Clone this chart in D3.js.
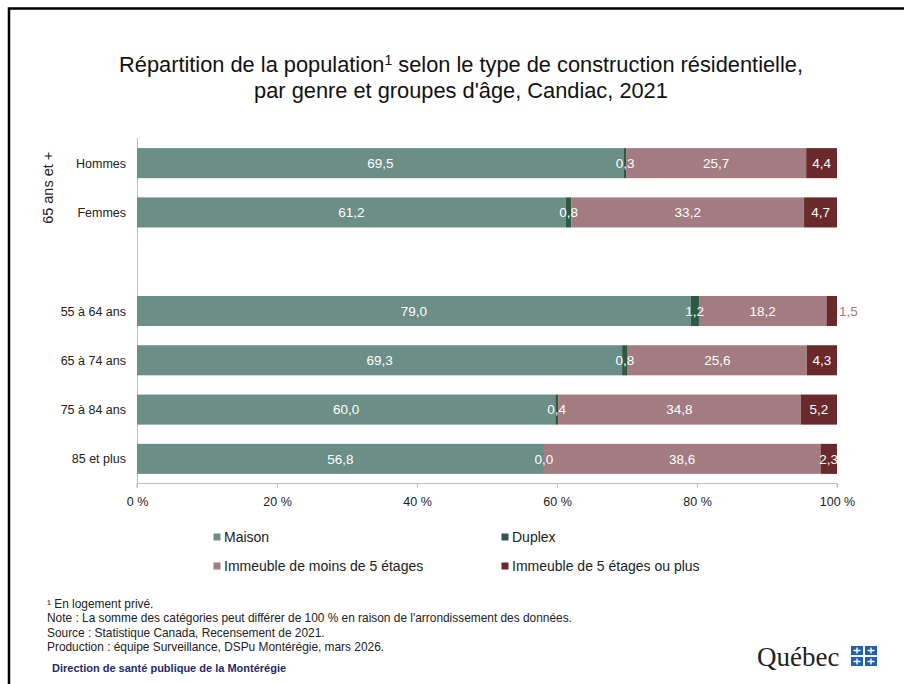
<!DOCTYPE html>
<html><head><meta charset="utf-8">
<script src="https://cdn.jsdelivr.net/npm/d3@7"></script>
<style>
body{margin:0;background:#fff;}
svg{display:block;}
</style></head>
<body>
<script>
const categories = ["Hommes", "Femmes", "", "55 à 64 ans", "65 à 74 ans", "75 à 84 ans", "85 et plus"];
const seriesNames = ["Maison", "Duplex", "Immeuble de moins de 5 étages", "Immeuble de 5 étages ou plus"];
const maison   = [69.5, 61.2, null, 79.0, 69.3, 60.0, 56.8];
const duplex   = [0.3, 0.8, null, 1.2, 0.8, 0.4, 0.0];
const immMoins = [25.7, 33.2, null, 18.2, 25.6, 34.8, 38.6];
const immPlus  = [4.4, 4.7, null, 1.5, 4.3, 5.2, 2.3];
const tickValues = [0, 20, 40, 60, 80, 100];
const colors = ["#6b8e87", "#2c5a44", "#a37c81", "#6a2a2c"];
const groupLabel = "65 ans et +";
const footnotes = [
  "¹ En logement privé.",
  "Note : La somme des catégories peut différer de 100 % en raison de l'arrondissement des données.",
  "Source : Statistique Canada, Recensement de 2021.",
  "Production : équipe Surveillance, DSPu Montérégie, mars 2026."
];

const W = 904, H = 684;
const svg = d3.select("body").append("svg").attr("width", W).attr("height", H);
const sans = "'Liberation Sans', Arial, sans-serif";

// frame
svg.append("path").attr("d", `M9,${H+5} V8.5 H${W+5}`).attr("fill","none").attr("stroke","#000").attr("stroke-width",2.5);

// title
const title = svg.append("text").attr("text-anchor","middle").attr("font-family", sans).attr("font-size", 21.8).attr("fill","#111");
const t1 = title.append("tspan").attr("x", 461).attr("y", 72);
t1.append("tspan").text("Répartition de la population");
t1.append("tspan").attr("font-size", 14).attr("dy", -7).text("1");
t1.append("tspan").attr("dy", 7).text(" selon le type de construction résidentielle,");
title.append("tspan").attr("x", 461).attr("y", 98).text("par genre et groupes d'âge, Candiac, 2021");

// scales
const x = d3.scaleLinear().domain([0, 100]).range([137, 837]);
const y = d3.scaleBand().domain(d3.range(categories.length)).range([138.5, 483.5]).paddingInner(0.39).paddingOuter(0.195);

const rows = categories.map((c, i) => ({i, cat: c, vals: [maison[i], duplex[i], immMoins[i], immPlus[i]]})).filter(r => r.vals[0] !== null);
rows.forEach(r => {
  const tot = d3.sum(r.vals);
  let acc = 0;
  r.segs = r.vals.map((v, k) => { const s = {k, v, x0: acc / tot * 100, x1: (acc + v) / tot * 100}; acc += v; return s; });
});

// axis
const xAxis = d3.axisBottom(x).tickValues(tickValues).tickSize(4).tickFormat(d => d + " %");
const gx = svg.append("g").attr("transform", `translate(0,${483.5})`).call(xAxis);
gx.select(".domain").attr("stroke", "#bfbfbf").attr("d", `M${x(0)},4V0H${x(100)}V4`);
gx.selectAll(".tick line").attr("stroke", "#bfbfbf");
gx.selectAll(".tick text").attr("font-family", sans).attr("font-size", 12.5).attr("fill", "#222").attr("dy", "1.2em");

// vertical axis line
svg.append("line").attr("x1", 137.5).attr("x2", 137.5).attr("y1", 138).attr("y2", 488).attr("stroke", "#bfbfbf");

// bars
const g = svg.append("g");
rows.forEach(r => {
  r.segs.forEach(s => {
    g.append("rect").attr("x", x(s.x0)).attr("width", Math.max(0, x(s.x1) - x(s.x0)))
      .attr("y", y(r.i)).attr("height", y.bandwidth()).attr("fill", colors[s.k]);
  });
  r.segs.forEach(s => {
    const cx = (x(s.x0) + x(s.x1)) / 2;
    const outside = (s.k === 3 && (x(s.x1) - x(s.x0)) < 14);
    g.append("text")
      .attr("x", outside ? x(100) + 2 : cx)
      .attr("y", y(r.i) + y.bandwidth() / 2)
      .attr("dy", "0.36em")
      .attr("text-anchor", outside ? "start" : "middle")
      .attr("font-family", sans).attr("font-size", 13.5)
      .attr("fill", outside ? colors[2] : "#fff")
      .text(d3.format(".1f")(s.v).replace(".", ","));
  });
  svg.append("text").attr("x", 126).attr("y", y(r.i) + y.bandwidth() / 2).attr("dy", "0.36em")
    .attr("text-anchor", "end").attr("font-family", sans).attr("font-size", 12.5).attr("fill", "#222").text(r.cat);
});

// group label
svg.append("text").attr("transform", `translate(53,${(y(0) + y(1) + y.bandwidth()) / 2}) rotate(-90)`)
  .attr("text-anchor", "middle").attr("font-family", sans).attr("font-size", 14.5).attr("fill", "#222").text(groupLabel);

// legend
const legPos = [[217, 537], [505, 537], [217, 566], [505, 566]];
seriesNames.forEach((n, k) => {
  const [lx, ly] = legPos[k];
  svg.append("rect").attr("x", lx - 3.5).attr("y", ly - 3.5).attr("width", 7).attr("height", 7).attr("fill", colors[k]);
  svg.append("text").attr("x", lx + 7).attr("y", ly).attr("dy", "0.36em").attr("font-family", sans).attr("font-size", 14).attr("fill", "#222").text(n);
});

// footnotes
footnotes.forEach((f, i) => {
  svg.append("text").attr("x", 47).attr("y", 608 + i * 14.3).attr("font-family", sans).attr("font-size", 11.9).attr("fill", "#222").text(f);
});
svg.append("text").attr("x", 52).attr("y", 672).attr("font-family", sans).attr("font-size", 11).attr("font-weight", "bold").attr("fill", "#1f2a6b").text("Direction de santé publique de la Montérégie");

// Québec logo
svg.append("text").attr("x", 757).attr("y", 666).attr("font-family", "'Liberation Serif','DejaVu Serif',serif").attr("font-size", 27).attr("fill", "#222").text("Québec");
const fl = svg.append("g").attr("transform", "translate(851,646)");
[[0,0],[14,0],[0,11],[14,11]].forEach(([fx, fy]) => {
  fl.append("rect").attr("x", fx).attr("y", fy).attr("width", 12).attr("height", 9).attr("fill", "#1f5eb0");
  fl.append("path").attr("d", `M${fx+6},${fy+1.5}V${fy+7.5}M${fx+2.5},${fy+4.5}H${fx+9.5}`).attr("stroke", "#fff").attr("stroke-width", 1.4);
});
</script>
</body></html>
